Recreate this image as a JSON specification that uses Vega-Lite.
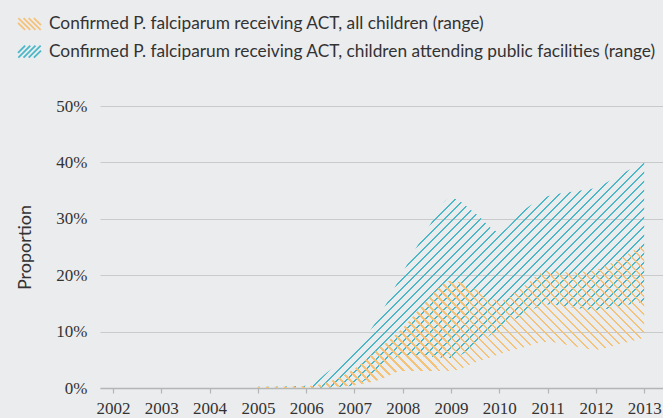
{
"$schema": "https://vega.github.io/schema/vega-lite/v6.json",
"width": 563,
"height": 282,
"autosize": {"type": "none"},
"padding": {"left": 100, "top": 106, "right": 0, "bottom": 30},
"background": "#ebecee",
"data": {"values": [
{"year":2005,"all_lo":0,"all_hi":0.002,"pub_lo":0,"pub_hi":0.002},
{"year":2006,"all_lo":0,"all_hi":0.003,"pub_lo":0,"pub_hi":0.004},
{"year":2006.5,"all_lo":0.002,"all_hi":0.012,"pub_lo":0.001,"pub_hi":0.032},
{"year":2007,"all_lo":0.005,"all_hi":0.034,"pub_lo":0.005,"pub_hi":0.066},
{"year":2007.5,"all_lo":0.014,"all_hi":0.07,"pub_lo":0.03,"pub_hi":0.125},
{"year":2008,"all_lo":0.03,"all_hi":0.106,"pub_lo":0.058,"pub_hi":0.205},
{"year":2008.5,"all_lo":0.03,"all_hi":0.155,"pub_lo":0.056,"pub_hi":0.28},
{"year":2009,"all_lo":0.03,"all_hi":0.19,"pub_lo":0.053,"pub_hi":0.337},
{"year":2009.5,"all_lo":0.045,"all_hi":0.175,"pub_lo":0.075,"pub_hi":0.31},
{"year":2010,"all_lo":0.06,"all_hi":0.155,"pub_lo":0.105,"pub_hi":0.277},
{"year":2010.5,"all_lo":0.072,"all_hi":0.18,"pub_lo":0.13,"pub_hi":0.315},
{"year":2011,"all_lo":0.082,"all_hi":0.208,"pub_lo":0.148,"pub_hi":0.34},
{"year":2011.5,"all_lo":0.075,"all_hi":0.205,"pub_lo":0.143,"pub_hi":0.348},
{"year":2012,"all_lo":0.068,"all_hi":0.21,"pub_lo":0.138,"pub_hi":0.355},
{"year":2012.5,"all_lo":0.078,"all_hi":0.23,"pub_lo":0.145,"pub_hi":0.378},
{"year":2013,"all_lo":0.089,"all_hi":0.255,"pub_lo":0.153,"pub_hi":0.401}
]},
"encoding": {
"x": {"field": "year", "type": "quantitative",
 "scale": {"domain": [2001.73, 2013.39], "nice": false, "zero": false},
 "axis": {"values": [2002,2003,2004,2005,2006,2007,2008,2009,2010,2011,2012,2013], "format": "d", "title": null, "grid": false, "labelFlush": false, "labelOverlap": false,
  "labelFont": "Liberation Sans Narrow", "labelFontSize": 17, "labelColor": "#333333", "labelPadding": 7,
  "tickSize": 5, "tickColor": "#b4b5b7", "tickWidth": 1.2, "domainColor": "#b4b5b7", "domainWidth": 1.5}}
},
"resolve": {"scale": {"stroke": "independent"}, "legend": {"stroke": "independent"}},
"layer": [
{
 "mark": {"type": "area", "interpolate": "monotone", "strokeWidth": 0,
  "fill": {"gradient": "linear", "x1": 0, "y1": 0, "x2": 1.3878, "y2": 0.8124, "stops": [
{"offset":0,"color":"#4cb8c7"},{"offset":0.003,"color":"#4cb8c7"},{"offset":0.003,"color":"transparent"},{"offset":0.0125,"color":"transparent"},
{"offset":0.0125,"color":"#4cb8c7"},{"offset":0.0155,"color":"#4cb8c7"},{"offset":0.0155,"color":"transparent"},{"offset":0.025,"color":"transparent"},
{"offset":0.025,"color":"#4cb8c7"},{"offset":0.028,"color":"#4cb8c7"},{"offset":0.028,"color":"transparent"},{"offset":0.0375,"color":"transparent"},
{"offset":0.0375,"color":"#4cb8c7"},{"offset":0.0405,"color":"#4cb8c7"},{"offset":0.0405,"color":"transparent"},{"offset":0.05,"color":"transparent"},
{"offset":0.05,"color":"#4cb8c7"},{"offset":0.053,"color":"#4cb8c7"},{"offset":0.053,"color":"transparent"},{"offset":0.0625,"color":"transparent"},
{"offset":0.0625,"color":"#4cb8c7"},{"offset":0.0655,"color":"#4cb8c7"},{"offset":0.0655,"color":"transparent"},{"offset":0.075,"color":"transparent"},
{"offset":0.075,"color":"#4cb8c7"},{"offset":0.078,"color":"#4cb8c7"},{"offset":0.078,"color":"transparent"},{"offset":0.0875,"color":"transparent"},
{"offset":0.0875,"color":"#4cb8c7"},{"offset":0.0905,"color":"#4cb8c7"},{"offset":0.0905,"color":"transparent"},{"offset":0.1,"color":"transparent"},
{"offset":0.1,"color":"#4cb8c7"},{"offset":0.103,"color":"#4cb8c7"},{"offset":0.103,"color":"transparent"},{"offset":0.1125,"color":"transparent"},
{"offset":0.1125,"color":"#4cb8c7"},{"offset":0.1155,"color":"#4cb8c7"},{"offset":0.1155,"color":"transparent"},{"offset":0.125,"color":"transparent"},
{"offset":0.125,"color":"#4cb8c7"},{"offset":0.128,"color":"#4cb8c7"},{"offset":0.128,"color":"transparent"},{"offset":0.1375,"color":"transparent"},
{"offset":0.1375,"color":"#4cb8c7"},{"offset":0.1405,"color":"#4cb8c7"},{"offset":0.1405,"color":"transparent"},{"offset":0.15,"color":"transparent"},
{"offset":0.15,"color":"#4cb8c7"},{"offset":0.153,"color":"#4cb8c7"},{"offset":0.153,"color":"transparent"},{"offset":0.1625,"color":"transparent"},
{"offset":0.1625,"color":"#4cb8c7"},{"offset":0.1655,"color":"#4cb8c7"},{"offset":0.1655,"color":"transparent"},{"offset":0.175,"color":"transparent"},
{"offset":0.175,"color":"#4cb8c7"},{"offset":0.178,"color":"#4cb8c7"},{"offset":0.178,"color":"transparent"},{"offset":0.1875,"color":"transparent"},
{"offset":0.1875,"color":"#4cb8c7"},{"offset":0.1905,"color":"#4cb8c7"},{"offset":0.1905,"color":"transparent"},{"offset":0.2,"color":"transparent"},
{"offset":0.2,"color":"#4cb8c7"},{"offset":0.203,"color":"#4cb8c7"},{"offset":0.203,"color":"transparent"},{"offset":0.2125,"color":"transparent"},
{"offset":0.2125,"color":"#4cb8c7"},{"offset":0.2155,"color":"#4cb8c7"},{"offset":0.2155,"color":"transparent"},{"offset":0.225,"color":"transparent"},
{"offset":0.225,"color":"#4cb8c7"},{"offset":0.228,"color":"#4cb8c7"},{"offset":0.228,"color":"transparent"},{"offset":0.2375,"color":"transparent"},
{"offset":0.2375,"color":"#4cb8c7"},{"offset":0.2405,"color":"#4cb8c7"},{"offset":0.2405,"color":"transparent"},{"offset":0.25,"color":"transparent"},
{"offset":0.25,"color":"#4cb8c7"},{"offset":0.253,"color":"#4cb8c7"},{"offset":0.253,"color":"transparent"},{"offset":0.2625,"color":"transparent"},
{"offset":0.2625,"color":"#4cb8c7"},{"offset":0.2655,"color":"#4cb8c7"},{"offset":0.2655,"color":"transparent"},{"offset":0.275,"color":"transparent"},
{"offset":0.275,"color":"#4cb8c7"},{"offset":0.278,"color":"#4cb8c7"},{"offset":0.278,"color":"transparent"},{"offset":0.2875,"color":"transparent"},
{"offset":0.2875,"color":"#4cb8c7"},{"offset":0.2905,"color":"#4cb8c7"},{"offset":0.2905,"color":"transparent"},{"offset":0.3,"color":"transparent"},
{"offset":0.3,"color":"#4cb8c7"},{"offset":0.303,"color":"#4cb8c7"},{"offset":0.303,"color":"transparent"},{"offset":0.3125,"color":"transparent"},
{"offset":0.3125,"color":"#4cb8c7"},{"offset":0.3155,"color":"#4cb8c7"},{"offset":0.3155,"color":"transparent"},{"offset":0.325,"color":"transparent"},
{"offset":0.325,"color":"#4cb8c7"},{"offset":0.328,"color":"#4cb8c7"},{"offset":0.328,"color":"transparent"},{"offset":0.3375,"color":"transparent"},
{"offset":0.3375,"color":"#4cb8c7"},{"offset":0.3405,"color":"#4cb8c7"},{"offset":0.3405,"color":"transparent"},{"offset":0.35,"color":"transparent"},
{"offset":0.35,"color":"#4cb8c7"},{"offset":0.353,"color":"#4cb8c7"},{"offset":0.353,"color":"transparent"},{"offset":0.3625,"color":"transparent"},
{"offset":0.3625,"color":"#4cb8c7"},{"offset":0.3655,"color":"#4cb8c7"},{"offset":0.3655,"color":"transparent"},{"offset":0.375,"color":"transparent"},
{"offset":0.375,"color":"#4cb8c7"},{"offset":0.378,"color":"#4cb8c7"},{"offset":0.378,"color":"transparent"},{"offset":0.3875,"color":"transparent"},
{"offset":0.3875,"color":"#4cb8c7"},{"offset":0.3905,"color":"#4cb8c7"},{"offset":0.3905,"color":"transparent"},{"offset":0.4,"color":"transparent"},
{"offset":0.4,"color":"#4cb8c7"},{"offset":0.403,"color":"#4cb8c7"},{"offset":0.403,"color":"transparent"},{"offset":0.4125,"color":"transparent"},
{"offset":0.4125,"color":"#4cb8c7"},{"offset":0.4155,"color":"#4cb8c7"},{"offset":0.4155,"color":"transparent"},{"offset":0.425,"color":"transparent"},
{"offset":0.425,"color":"#4cb8c7"},{"offset":0.428,"color":"#4cb8c7"},{"offset":0.428,"color":"transparent"},{"offset":0.4375,"color":"transparent"},
{"offset":0.4375,"color":"#4cb8c7"},{"offset":0.4405,"color":"#4cb8c7"},{"offset":0.4405,"color":"transparent"},{"offset":0.45,"color":"transparent"},
{"offset":0.45,"color":"#4cb8c7"},{"offset":0.453,"color":"#4cb8c7"},{"offset":0.453,"color":"transparent"},{"offset":0.4625,"color":"transparent"},
{"offset":0.4625,"color":"#4cb8c7"},{"offset":0.4655,"color":"#4cb8c7"},{"offset":0.4655,"color":"transparent"},{"offset":0.475,"color":"transparent"},
{"offset":0.475,"color":"#4cb8c7"},{"offset":0.478,"color":"#4cb8c7"},{"offset":0.478,"color":"transparent"},{"offset":0.4875,"color":"transparent"},
{"offset":0.4875,"color":"#4cb8c7"},{"offset":0.4905,"color":"#4cb8c7"},{"offset":0.4905,"color":"transparent"},{"offset":0.5,"color":"transparent"},
{"offset":0.5,"color":"#4cb8c7"},{"offset":0.503,"color":"#4cb8c7"},{"offset":0.503,"color":"transparent"},{"offset":0.5125,"color":"transparent"},
{"offset":0.5125,"color":"#4cb8c7"},{"offset":0.5155,"color":"#4cb8c7"},{"offset":0.5155,"color":"transparent"},{"offset":0.525,"color":"transparent"},
{"offset":0.525,"color":"#4cb8c7"},{"offset":0.528,"color":"#4cb8c7"},{"offset":0.528,"color":"transparent"},{"offset":0.5375,"color":"transparent"},
{"offset":0.5375,"color":"#4cb8c7"},{"offset":0.5405,"color":"#4cb8c7"},{"offset":0.5405,"color":"transparent"},{"offset":0.55,"color":"transparent"},
{"offset":0.55,"color":"#4cb8c7"},{"offset":0.553,"color":"#4cb8c7"},{"offset":0.553,"color":"transparent"},{"offset":0.5625,"color":"transparent"},
{"offset":0.5625,"color":"#4cb8c7"},{"offset":0.5655,"color":"#4cb8c7"},{"offset":0.5655,"color":"transparent"},{"offset":0.575,"color":"transparent"},
{"offset":0.575,"color":"#4cb8c7"},{"offset":0.578,"color":"#4cb8c7"},{"offset":0.578,"color":"transparent"},{"offset":0.5875,"color":"transparent"},
{"offset":0.5875,"color":"#4cb8c7"},{"offset":0.5905,"color":"#4cb8c7"},{"offset":0.5905,"color":"transparent"},{"offset":0.6,"color":"transparent"},
{"offset":0.6,"color":"#4cb8c7"},{"offset":0.603,"color":"#4cb8c7"},{"offset":0.603,"color":"transparent"},{"offset":0.6125,"color":"transparent"},
{"offset":0.6125,"color":"#4cb8c7"},{"offset":0.6155,"color":"#4cb8c7"},{"offset":0.6155,"color":"transparent"},{"offset":0.625,"color":"transparent"},
{"offset":0.625,"color":"#4cb8c7"},{"offset":0.628,"color":"#4cb8c7"},{"offset":0.628,"color":"transparent"},{"offset":0.6375,"color":"transparent"},
{"offset":0.6375,"color":"#4cb8c7"},{"offset":0.6405,"color":"#4cb8c7"},{"offset":0.6405,"color":"transparent"},{"offset":0.65,"color":"transparent"},
{"offset":0.65,"color":"#4cb8c7"},{"offset":0.653,"color":"#4cb8c7"},{"offset":0.653,"color":"transparent"},{"offset":0.6625,"color":"transparent"},
{"offset":0.6625,"color":"#4cb8c7"},{"offset":0.6655,"color":"#4cb8c7"},{"offset":0.6655,"color":"transparent"},{"offset":0.675,"color":"transparent"},
{"offset":0.675,"color":"#4cb8c7"},{"offset":0.678,"color":"#4cb8c7"},{"offset":0.678,"color":"transparent"},{"offset":0.6875,"color":"transparent"},
{"offset":0.6875,"color":"#4cb8c7"},{"offset":0.6905,"color":"#4cb8c7"},{"offset":0.6905,"color":"transparent"},{"offset":0.7,"color":"transparent"},
{"offset":0.7,"color":"#4cb8c7"},{"offset":0.703,"color":"#4cb8c7"},{"offset":0.703,"color":"transparent"},{"offset":0.7125,"color":"transparent"},
{"offset":0.7125,"color":"#4cb8c7"},{"offset":0.7155,"color":"#4cb8c7"},{"offset":0.7155,"color":"transparent"},{"offset":0.725,"color":"transparent"},
{"offset":0.725,"color":"#4cb8c7"},{"offset":0.728,"color":"#4cb8c7"},{"offset":0.728,"color":"transparent"},{"offset":0.7375,"color":"transparent"},
{"offset":0.7375,"color":"#4cb8c7"},{"offset":0.7405,"color":"#4cb8c7"},{"offset":0.7405,"color":"transparent"},{"offset":0.75,"color":"transparent"},
{"offset":0.75,"color":"#4cb8c7"},{"offset":0.753,"color":"#4cb8c7"},{"offset":0.753,"color":"transparent"},{"offset":0.7625,"color":"transparent"},
{"offset":0.7625,"color":"#4cb8c7"},{"offset":0.7655,"color":"#4cb8c7"},{"offset":0.7655,"color":"transparent"},{"offset":0.775,"color":"transparent"},
{"offset":0.775,"color":"#4cb8c7"},{"offset":0.778,"color":"#4cb8c7"},{"offset":0.778,"color":"transparent"},{"offset":0.7875,"color":"transparent"},
{"offset":0.7875,"color":"#4cb8c7"},{"offset":0.7905,"color":"#4cb8c7"},{"offset":0.7905,"color":"transparent"},{"offset":0.8,"color":"transparent"},
{"offset":0.8,"color":"#4cb8c7"},{"offset":0.803,"color":"#4cb8c7"},{"offset":0.803,"color":"transparent"},{"offset":0.8125,"color":"transparent"},
{"offset":0.8125,"color":"#4cb8c7"},{"offset":0.8155,"color":"#4cb8c7"},{"offset":0.8155,"color":"transparent"},{"offset":0.825,"color":"transparent"},
{"offset":0.825,"color":"#4cb8c7"},{"offset":0.828,"color":"#4cb8c7"},{"offset":0.828,"color":"transparent"},{"offset":0.8375,"color":"transparent"},
{"offset":0.8375,"color":"#4cb8c7"},{"offset":0.8405,"color":"#4cb8c7"},{"offset":0.8405,"color":"transparent"},{"offset":0.85,"color":"transparent"},
{"offset":0.85,"color":"#4cb8c7"},{"offset":0.853,"color":"#4cb8c7"},{"offset":0.853,"color":"transparent"},{"offset":1,"color":"transparent"}
  ]}},
 "encoding": {
  "y": {"field": "pub_lo", "type": "quantitative",
   "scale": {"domain": [0, 0.5], "nice": false, "zero": true},
   "axis": {"values": [0,0.1,0.2,0.3,0.4,0.5], "format": ".0%", "domain": false, "ticks": false, "grid": true, "labelFlush": false,
    "gridColor": "#c9cacc", "gridWidth": 1.2,
    "labelFont": "Liberation Sans Narrow", "labelFontSize": 17, "labelColor": "#333333", "labelPadding": 13,
    "title": "Proportion", "titleFont": "Lato", "titleFontSize": 18, "titleFontWeight": "normal", "titleColor": "#333333", "titlePadding": 21}},
  "y2": {"field": "pub_hi"},
  "stroke": {"datum": "Confirmed P. falciparum receiving ACT, children attending public facilities (range)",
   "scale": {"domain": ["Confirmed P. falciparum receiving ACT, children attending public facilities (range)"], "range": ["#4cb8c7"]},
   "legend": {"orient": "none", "legendX": -83, "legendY": -66.8, "title": null, "padding": 0,
    "symbolSize": 529, "symbolStrokeWidth": 1.8, "symbolFillColor": "transparent", "labelOffset": 7, "labelLimit": 700,
    "labelFont": "Lato", "labelFontSize": 17.3, "labelColor": "#333333",
    "symbolType": "M1,-0.1L0.38,0.52M0.97,-0.52L-0.07,0.52M0.52,-0.52L-0.52,0.52M0.07,-0.52L-0.97,0.52M-0.38,-0.52L-1,0.1"}}
 }
},
{
 "mark": {"type": "area", "interpolate": "monotone", "strokeWidth": 0,
  "fill": {"gradient": "linear", "x1": 0, "y1": 1, "x2": 1.6367, "y2": 0.3909, "stops": [
{"offset":0,"color":"#f5c27a"},{"offset":0.003,"color":"#f5c27a"},{"offset":0.003,"color":"transparent"},{"offset":0.0125,"color":"transparent"},
{"offset":0.0125,"color":"#f5c27a"},{"offset":0.0155,"color":"#f5c27a"},{"offset":0.0155,"color":"transparent"},{"offset":0.025,"color":"transparent"},
{"offset":0.025,"color":"#f5c27a"},{"offset":0.028,"color":"#f5c27a"},{"offset":0.028,"color":"transparent"},{"offset":0.0375,"color":"transparent"},
{"offset":0.0375,"color":"#f5c27a"},{"offset":0.0405,"color":"#f5c27a"},{"offset":0.0405,"color":"transparent"},{"offset":0.05,"color":"transparent"},
{"offset":0.05,"color":"#f5c27a"},{"offset":0.053,"color":"#f5c27a"},{"offset":0.053,"color":"transparent"},{"offset":0.0625,"color":"transparent"},
{"offset":0.0625,"color":"#f5c27a"},{"offset":0.0655,"color":"#f5c27a"},{"offset":0.0655,"color":"transparent"},{"offset":0.075,"color":"transparent"},
{"offset":0.075,"color":"#f5c27a"},{"offset":0.078,"color":"#f5c27a"},{"offset":0.078,"color":"transparent"},{"offset":0.0875,"color":"transparent"},
{"offset":0.0875,"color":"#f5c27a"},{"offset":0.0905,"color":"#f5c27a"},{"offset":0.0905,"color":"transparent"},{"offset":0.1,"color":"transparent"},
{"offset":0.1,"color":"#f5c27a"},{"offset":0.103,"color":"#f5c27a"},{"offset":0.103,"color":"transparent"},{"offset":0.1125,"color":"transparent"},
{"offset":0.1125,"color":"#f5c27a"},{"offset":0.1155,"color":"#f5c27a"},{"offset":0.1155,"color":"transparent"},{"offset":0.125,"color":"transparent"},
{"offset":0.125,"color":"#f5c27a"},{"offset":0.128,"color":"#f5c27a"},{"offset":0.128,"color":"transparent"},{"offset":0.1375,"color":"transparent"},
{"offset":0.1375,"color":"#f5c27a"},{"offset":0.1405,"color":"#f5c27a"},{"offset":0.1405,"color":"transparent"},{"offset":0.15,"color":"transparent"},
{"offset":0.15,"color":"#f5c27a"},{"offset":0.153,"color":"#f5c27a"},{"offset":0.153,"color":"transparent"},{"offset":0.1625,"color":"transparent"},
{"offset":0.1625,"color":"#f5c27a"},{"offset":0.1655,"color":"#f5c27a"},{"offset":0.1655,"color":"transparent"},{"offset":0.175,"color":"transparent"},
{"offset":0.175,"color":"#f5c27a"},{"offset":0.178,"color":"#f5c27a"},{"offset":0.178,"color":"transparent"},{"offset":0.1875,"color":"transparent"},
{"offset":0.1875,"color":"#f5c27a"},{"offset":0.1905,"color":"#f5c27a"},{"offset":0.1905,"color":"transparent"},{"offset":0.2,"color":"transparent"},
{"offset":0.2,"color":"#f5c27a"},{"offset":0.203,"color":"#f5c27a"},{"offset":0.203,"color":"transparent"},{"offset":0.2125,"color":"transparent"},
{"offset":0.2125,"color":"#f5c27a"},{"offset":0.2155,"color":"#f5c27a"},{"offset":0.2155,"color":"transparent"},{"offset":0.225,"color":"transparent"},
{"offset":0.225,"color":"#f5c27a"},{"offset":0.228,"color":"#f5c27a"},{"offset":0.228,"color":"transparent"},{"offset":0.2375,"color":"transparent"},
{"offset":0.2375,"color":"#f5c27a"},{"offset":0.2405,"color":"#f5c27a"},{"offset":0.2405,"color":"transparent"},{"offset":0.25,"color":"transparent"},
{"offset":0.25,"color":"#f5c27a"},{"offset":0.253,"color":"#f5c27a"},{"offset":0.253,"color":"transparent"},{"offset":0.2625,"color":"transparent"},
{"offset":0.2625,"color":"#f5c27a"},{"offset":0.2655,"color":"#f5c27a"},{"offset":0.2655,"color":"transparent"},{"offset":0.275,"color":"transparent"},
{"offset":0.275,"color":"#f5c27a"},{"offset":0.278,"color":"#f5c27a"},{"offset":0.278,"color":"transparent"},{"offset":0.2875,"color":"transparent"},
{"offset":0.2875,"color":"#f5c27a"},{"offset":0.2905,"color":"#f5c27a"},{"offset":0.2905,"color":"transparent"},{"offset":0.3,"color":"transparent"},
{"offset":0.3,"color":"#f5c27a"},{"offset":0.303,"color":"#f5c27a"},{"offset":0.303,"color":"transparent"},{"offset":0.3125,"color":"transparent"},
{"offset":0.3125,"color":"#f5c27a"},{"offset":0.3155,"color":"#f5c27a"},{"offset":0.3155,"color":"transparent"},{"offset":0.325,"color":"transparent"},
{"offset":0.325,"color":"#f5c27a"},{"offset":0.328,"color":"#f5c27a"},{"offset":0.328,"color":"transparent"},{"offset":0.3375,"color":"transparent"},
{"offset":0.3375,"color":"#f5c27a"},{"offset":0.3405,"color":"#f5c27a"},{"offset":0.3405,"color":"transparent"},{"offset":0.35,"color":"transparent"},
{"offset":0.35,"color":"#f5c27a"},{"offset":0.353,"color":"#f5c27a"},{"offset":0.353,"color":"transparent"},{"offset":0.3625,"color":"transparent"},
{"offset":0.3625,"color":"#f5c27a"},{"offset":0.3655,"color":"#f5c27a"},{"offset":0.3655,"color":"transparent"},{"offset":0.375,"color":"transparent"},
{"offset":0.375,"color":"#f5c27a"},{"offset":0.378,"color":"#f5c27a"},{"offset":0.378,"color":"transparent"},{"offset":0.3875,"color":"transparent"},
{"offset":0.3875,"color":"#f5c27a"},{"offset":0.3905,"color":"#f5c27a"},{"offset":0.3905,"color":"transparent"},{"offset":0.4,"color":"transparent"},
{"offset":0.4,"color":"#f5c27a"},{"offset":0.403,"color":"#f5c27a"},{"offset":0.403,"color":"transparent"},{"offset":0.4125,"color":"transparent"},
{"offset":0.4125,"color":"#f5c27a"},{"offset":0.4155,"color":"#f5c27a"},{"offset":0.4155,"color":"transparent"},{"offset":0.425,"color":"transparent"},
{"offset":0.425,"color":"#f5c27a"},{"offset":0.428,"color":"#f5c27a"},{"offset":0.428,"color":"transparent"},{"offset":0.4375,"color":"transparent"},
{"offset":0.4375,"color":"#f5c27a"},{"offset":0.4405,"color":"#f5c27a"},{"offset":0.4405,"color":"transparent"},{"offset":0.45,"color":"transparent"},
{"offset":0.45,"color":"#f5c27a"},{"offset":0.453,"color":"#f5c27a"},{"offset":0.453,"color":"transparent"},{"offset":0.4625,"color":"transparent"},
{"offset":0.4625,"color":"#f5c27a"},{"offset":0.4655,"color":"#f5c27a"},{"offset":0.4655,"color":"transparent"},{"offset":0.475,"color":"transparent"},
{"offset":0.475,"color":"#f5c27a"},{"offset":0.478,"color":"#f5c27a"},{"offset":0.478,"color":"transparent"},{"offset":0.4875,"color":"transparent"},
{"offset":0.4875,"color":"#f5c27a"},{"offset":0.4905,"color":"#f5c27a"},{"offset":0.4905,"color":"transparent"},{"offset":0.5,"color":"transparent"},
{"offset":0.5,"color":"#f5c27a"},{"offset":0.503,"color":"#f5c27a"},{"offset":0.503,"color":"transparent"},{"offset":0.5125,"color":"transparent"},
{"offset":0.5125,"color":"#f5c27a"},{"offset":0.5155,"color":"#f5c27a"},{"offset":0.5155,"color":"transparent"},{"offset":0.525,"color":"transparent"},
{"offset":0.525,"color":"#f5c27a"},{"offset":0.528,"color":"#f5c27a"},{"offset":0.528,"color":"transparent"},{"offset":0.5375,"color":"transparent"},
{"offset":0.5375,"color":"#f5c27a"},{"offset":0.5405,"color":"#f5c27a"},{"offset":0.5405,"color":"transparent"},{"offset":0.55,"color":"transparent"},
{"offset":0.55,"color":"#f5c27a"},{"offset":0.553,"color":"#f5c27a"},{"offset":0.553,"color":"transparent"},{"offset":0.5625,"color":"transparent"},
{"offset":0.5625,"color":"#f5c27a"},{"offset":0.5655,"color":"#f5c27a"},{"offset":0.5655,"color":"transparent"},{"offset":0.575,"color":"transparent"},
{"offset":0.575,"color":"#f5c27a"},{"offset":0.578,"color":"#f5c27a"},{"offset":0.578,"color":"transparent"},{"offset":0.5875,"color":"transparent"},
{"offset":0.5875,"color":"#f5c27a"},{"offset":0.5905,"color":"#f5c27a"},{"offset":0.5905,"color":"transparent"},{"offset":0.6,"color":"transparent"},
{"offset":0.6,"color":"#f5c27a"},{"offset":0.603,"color":"#f5c27a"},{"offset":0.603,"color":"transparent"},{"offset":0.6125,"color":"transparent"},
{"offset":0.6125,"color":"#f5c27a"},{"offset":0.6155,"color":"#f5c27a"},{"offset":0.6155,"color":"transparent"},{"offset":0.625,"color":"transparent"},
{"offset":0.625,"color":"#f5c27a"},{"offset":0.628,"color":"#f5c27a"},{"offset":0.628,"color":"transparent"},{"offset":0.6375,"color":"transparent"},
{"offset":0.6375,"color":"#f5c27a"},{"offset":0.6405,"color":"#f5c27a"},{"offset":0.6405,"color":"transparent"},{"offset":0.65,"color":"transparent"},
{"offset":0.65,"color":"#f5c27a"},{"offset":0.653,"color":"#f5c27a"},{"offset":0.653,"color":"transparent"},{"offset":0.6625,"color":"transparent"},
{"offset":0.6625,"color":"#f5c27a"},{"offset":0.6655,"color":"#f5c27a"},{"offset":0.6655,"color":"transparent"},{"offset":0.675,"color":"transparent"},
{"offset":0.675,"color":"#f5c27a"},{"offset":0.678,"color":"#f5c27a"},{"offset":0.678,"color":"transparent"},{"offset":0.6875,"color":"transparent"},
{"offset":0.6875,"color":"#f5c27a"},{"offset":0.6905,"color":"#f5c27a"},{"offset":0.6905,"color":"transparent"},{"offset":0.7,"color":"transparent"},
{"offset":0.7,"color":"#f5c27a"},{"offset":0.703,"color":"#f5c27a"},{"offset":0.703,"color":"transparent"},{"offset":0.7125,"color":"transparent"},
{"offset":0.7125,"color":"#f5c27a"},{"offset":0.7155,"color":"#f5c27a"},{"offset":0.7155,"color":"transparent"},{"offset":0.725,"color":"transparent"},
{"offset":0.725,"color":"#f5c27a"},{"offset":0.728,"color":"#f5c27a"},{"offset":0.728,"color":"transparent"},{"offset":0.7375,"color":"transparent"},
{"offset":0.7375,"color":"#f5c27a"},{"offset":0.7405,"color":"#f5c27a"},{"offset":0.7405,"color":"transparent"},{"offset":1,"color":"transparent"}
  ]}},
 "encoding": {
  "y": {"field": "all_lo", "type": "quantitative"},
  "y2": {"field": "all_hi"},
  "stroke": {"datum": "Confirmed P. falciparum receiving ACT, all children (range)",
   "scale": {"domain": ["Confirmed P. falciparum receiving ACT, all children (range)"], "range": ["#f5c27a"]},
   "legend": {"orient": "none", "legendX": -83, "legendY": -94.5, "title": null, "padding": 0,
    "symbolSize": 529, "symbolStrokeWidth": 1.8, "symbolFillColor": "transparent", "labelOffset": 7, "labelLimit": 700,
    "labelFont": "Lato", "labelFontSize": 17.3, "labelColor": "#333333",
    "symbolType": "M-1,-0.1L-0.38,0.52M-0.97,-0.52L0.07,0.52M-0.52,-0.52L0.52,0.52M-0.07,-0.52L0.97,0.52M0.38,-0.52L1,0.1"}}
 }
}
],
"config": {"view": {"stroke": null}, "font": "Lato"}
}
